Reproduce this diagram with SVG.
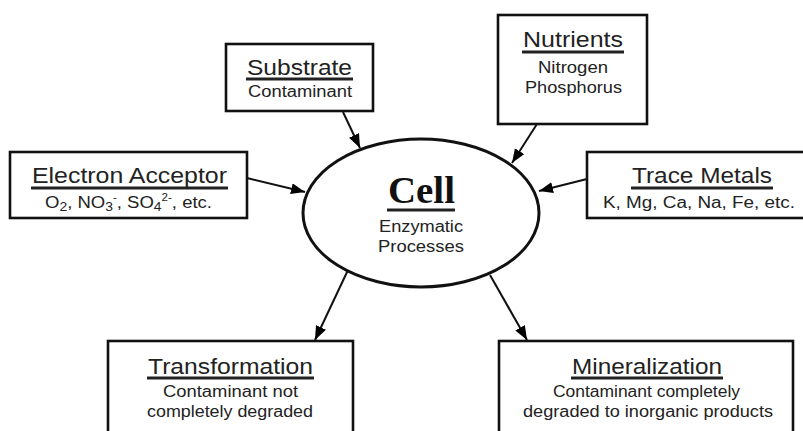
<svg xmlns="http://www.w3.org/2000/svg" width="803" height="431" viewBox="0 0 803 431">
<defs>
<marker id="ah" markerUnits="userSpaceOnUse" markerWidth="15" markerHeight="12" refX="14" refY="5.5" orient="auto">
<path d="M0,0 L14,5.5 L0,11 z" fill="#000"/>
</marker>
<style>
.box{fill:#fff;stroke:#111;stroke-width:2.6}
.t{font-family:"Liberation Sans",Arial,sans-serif;font-size:22px;fill:#222}
.s{font-family:"Liberation Sans",Arial,sans-serif;font-size:16px;fill:#222}
.ul{stroke:#222;stroke-width:3}
.c{stroke:#111;stroke-width:2;fill:none;marker-end:url(#ah)}
</style>
</defs>
<rect width="803" height="431" fill="#fff"/>
<g id="connectors">
<line class="c" x1="247" y1="178" x2="305" y2="192"/>
<line class="c" x1="343" y1="112" x2="360" y2="148"/>
<line class="c" x1="537" y1="124" x2="512" y2="163"/>
<line class="c" x1="587" y1="179" x2="539" y2="191"/>
<line class="c" x1="348" y1="270" x2="315" y2="340"/>
<line class="c" x1="490" y1="275" x2="527" y2="340"/>
</g>
<g id="cell">
<ellipse cx="421" cy="213" rx="118" ry="74" fill="#fff" stroke="#111" stroke-width="3"/>
<text x="388" y="203" textLength="67" lengthAdjust="spacingAndGlyphs" font-family="'Liberation Serif','Times New Roman',serif" font-weight="bold" font-size="38" fill="#111">Cell</text>
<line class="ul" x1="387" y1="210" x2="455" y2="210"/>
<text class="s" x="379" y="232" textLength="84" lengthAdjust="spacingAndGlyphs">Enzymatic</text>
<text class="s" x="378" y="252" textLength="86" lengthAdjust="spacingAndGlyphs">Processes</text>
</g>
<g id="electron-acceptor">
<rect class="box" x="10" y="152" width="237" height="66"/>
<text class="t" x="32" y="183" textLength="195" lengthAdjust="spacingAndGlyphs">Electron Acceptor</text>
<line class="ul" x1="31" y1="188" x2="228" y2="188"/>
<text class="s" x="45" y="208" font-size="17" textLength="167" lengthAdjust="spacingAndGlyphs">O<tspan font-size="12" dy="3">2</tspan><tspan dy="-3">, NO</tspan><tspan font-size="12" dy="3">3</tspan><tspan font-size="10" dy="-10">-</tspan><tspan dy="7">, SO</tspan><tspan font-size="12" dy="3">4</tspan><tspan font-size="10" dy="-10">2-</tspan><tspan dy="7">, etc.</tspan></text>
</g>
<g id="substrate">
<rect class="box" x="226" y="44" width="147" height="67"/>
<text class="t" x="247" y="75" textLength="105" lengthAdjust="spacingAndGlyphs">Substrate</text>
<line class="ul" x1="246" y1="79" x2="353" y2="79"/>
<text class="s" x="248" y="97" textLength="104" lengthAdjust="spacingAndGlyphs">Contaminant</text>
</g>
<g id="nutrients">
<rect class="box" x="498" y="15" width="149" height="109"/>
<text class="t" x="523" y="47" textLength="100" lengthAdjust="spacingAndGlyphs">Nutrients</text>
<line class="ul" x1="522" y1="52" x2="624" y2="52"/>
<text class="s" x="538" y="73" textLength="70" lengthAdjust="spacingAndGlyphs">Nitrogen</text>
<text class="s" x="525" y="93" textLength="97" lengthAdjust="spacingAndGlyphs">Phosphorus</text>
</g>
<g id="trace-metals">
<rect class="box" x="587" y="152" width="220" height="66"/>
<text class="t" x="632" y="183" textLength="140" lengthAdjust="spacingAndGlyphs">Trace Metals</text>
<line class="ul" x1="631" y1="188" x2="773" y2="188"/>
<text class="s" x="603" y="208" textLength="192" lengthAdjust="spacingAndGlyphs">K, Mg, Ca, Na, Fe, etc.</text>
</g>
<g id="transformation">
<rect class="box" x="108" y="341" width="245" height="96"/>
<text class="t" x="148" y="374" textLength="165" lengthAdjust="spacingAndGlyphs">Transformation</text>
<line class="ul" x1="147" y1="378" x2="314" y2="378"/>
<text class="s" x="163" y="397" textLength="135" lengthAdjust="spacingAndGlyphs">Contaminant not</text>
<text class="s" x="147" y="417" textLength="166" lengthAdjust="spacingAndGlyphs">completely degraded</text>
</g>
<g id="mineralization">
<rect class="box" x="499" y="341" width="294" height="96"/>
<text class="t" x="572" y="374" textLength="150" lengthAdjust="spacingAndGlyphs">Mineralization</text>
<line class="ul" x1="571" y1="378" x2="723" y2="378"/>
<text class="s" x="553" y="397" textLength="187" lengthAdjust="spacingAndGlyphs">Contaminant completely</text>
<text class="s" x="523" y="417" textLength="250" lengthAdjust="spacingAndGlyphs">degraded to inorganic products</text>
</g>
</svg>
